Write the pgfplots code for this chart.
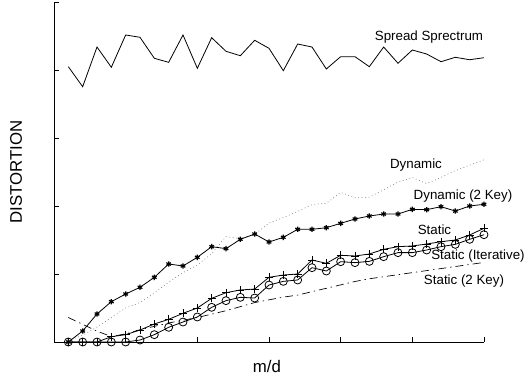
\documentclass[border=0pt]{standalone}
\usepackage{fontspec}
\setmainfont{Liberation Sans}
\usepackage{pgfplots}
\pgfplotsset{compat=1.18}
\begin{document}
\begin{tikzpicture}[x=1pt,y=1pt]
\useasboundingbox (-40.5pt,-27.75pt) rectangle (356.25pt,256.5pt);
\begin{axis}[
  scale only axis, width=322.5pt, height=255pt,
  anchor=origin, at={(0pt,0pt)},
  xmin=0, xmax=6, ymin=0, ymax=5,
  axis x line*=bottom, axis y line*=left,
  axis line style={-, line width=0.5pt},
  xtick={0,1,2,3,4,5,6}, ytick={0,1,2,3,4,5},
  xticklabels={}, yticklabels={},
  tick align=inside, major tick length=3.75pt,
  tick style={line width=0.5pt, black},
  clip=false,
  every axis plot/.append style={line width=0.6pt, black},
  font=\fontsize{10}{12}\selectfont,
]
% Spread Spectrum
\addplot[no markers] coordinates {
(0.2,4.049)(0.4,3.754)(0.6,4.338)(0.8,4.040)(1.0,4.515)(1.2,4.481)(1.4,4.172)(1.6,4.113)(1.8,4.515)(2.0,4.025)
(2.2,4.475)(2.4,4.275)(2.6,4.210)(2.8,4.437)(3.0,4.319)(3.2,3.990)(3.4,4.382)(3.6,4.338)(3.8,4.015)(4.0,4.196)
(4.2,4.196)(4.4,4.049)(4.6,4.338)(4.8,4.099)(5.0,4.294)(5.2,4.235)(5.4,4.122)(5.6,4.187)(5.8,4.151)(6.0,4.181)};
% Dynamic (dotted)
\addplot[no markers, dotted, gray, line width=0.5pt] coordinates {
(0.2,0.02)(0.4,0.10)(0.6,0.22)(0.8,0.36)(1.0,0.50)(1.2,0.58)(1.4,0.72)(1.6,0.88)(1.8,1.02)(2.0,1.13)
(2.2,1.30)(2.4,1.55)(2.6,1.52)(2.8,1.58)(3.0,1.75)(3.2,1.83)(3.4,1.92)(3.6,2.02)(3.8,2.04)(4.0,2.20)
(4.2,2.12)(4.4,2.13)(4.6,2.24)(4.8,2.35)(5.0,2.42)(5.2,2.33)(5.4,2.42)(5.6,2.52)(5.8,2.60)(6.0,2.68)};
% Dynamic (2 Key)
\addplot[mark=asterisk, mark size=2pt, mark options={line width=0.9pt}] coordinates {
(0.2,0)(0.4,0.162)(0.6,0.412)(0.8,0.593)(1.0,0.706)(1.2,0.804)(1.4,0.951)(1.6,1.147)(1.8,1.118)(2.0,1.245)
(2.2,1.402)(2.4,1.373)(2.6,1.510)(2.8,1.588)(3.0,1.471)(3.2,1.539)(3.4,1.657)(3.6,1.657)(3.8,1.681)(4.0,1.745)
(4.2,1.809)(4.4,1.853)(4.6,1.882)(4.8,1.882)(5.0,1.951)(5.2,1.946)(5.4,1.990)(5.6,1.926)(5.8,2.0)(6.0,2.025)};
% Static
\addplot[mark=+, mark size=3pt] coordinates {
(0.2,0)(0.4,0)(0.6,0)(0.8,0.078)(1.0,0.108)(1.2,0.176)(1.4,0.265)(1.6,0.333)(1.8,0.422)(2.0,0.50)
(2.2,0.642)(2.4,0.725)(2.6,0.765)(2.8,0.779)(3.0,0.951)(3.2,0.985)(3.4,1.0)(3.6,1.206)(3.8,1.157)(4.0,1.275)
(4.2,1.265)(4.4,1.294)(4.6,1.363)(4.8,1.402)(5.0,1.412)(5.2,1.441)(5.4,1.475)(5.6,1.5)(5.8,1.574)(6.0,1.672)};
% Static (Iterative)
\addplot[mark=o, mark size=3pt] coordinates {
(0.2,0)(0.4,0)(0.6,0)(0.8,0)(1.0,0)(1.2,0.029)(1.4,0.108)(1.6,0.216)(1.8,0.294)(2.0,0.368)
(2.2,0.510)(2.4,0.608)(2.6,0.657)(2.8,0.647)(3.0,0.838)(3.2,0.892)(3.4,0.912)(3.6,1.093)(3.8,1.044)(4.0,1.181)
(4.2,1.167)(4.4,1.186)(4.6,1.255)(4.8,1.314)(5.0,1.314)(5.2,1.353)(5.4,1.402)(5.6,1.436)(5.8,1.510)(6.0,1.578)};
% Static (2 Key)
\addplot[no markers, dash pattern=on 6pt off 3pt on 1pt off 3pt, line width=0.5pt] coordinates {
(0.2,0.36)(0.4,0.26)(0.6,0.16)(0.8,0.08)(1.0,0.12)(1.2,0.18)(1.4,0.23)(1.6,0.28)(1.8,0.32)(2.0,0.36)
(2.2,0.41)(2.4,0.46)(2.6,0.52)(2.8,0.58)(3.0,0.62)(3.2,0.66)(3.4,0.69)(3.6,0.74)(3.8,0.79)(4.0,0.84)
(4.2,0.89)(4.4,0.93)(4.6,0.96)(4.8,0.99)(5.0,1.02)(5.2,1.05)(5.4,1.08)(5.6,1.11)(5.8,1.14)(6.0,1.17)};
\node at (axis cs:5.232,4.49) {Spread Sprectrum};
\node at (axis cs:5.051,2.60) {Dynamic};
\node at (axis cs:5.707,2.147) {Dynamic (2 Key)};
\node at (axis cs:5.309,1.647) {Static};
\node at (axis cs:5.916,1.265) {Static (Iterative)};
\node at (axis cs:5.721,0.897) {Static (2 Key)};
\node[rotate=90, font=\fontsize{12.6}{15}\selectfont] at (axis cs:-0.53,2.5) {DISTORTION};
\node[font=\fontsize{12.6}{15}\selectfont] at (axis cs:2.972,-0.36) {m/d};
\end{axis}
\end{tikzpicture}
\end{document}
